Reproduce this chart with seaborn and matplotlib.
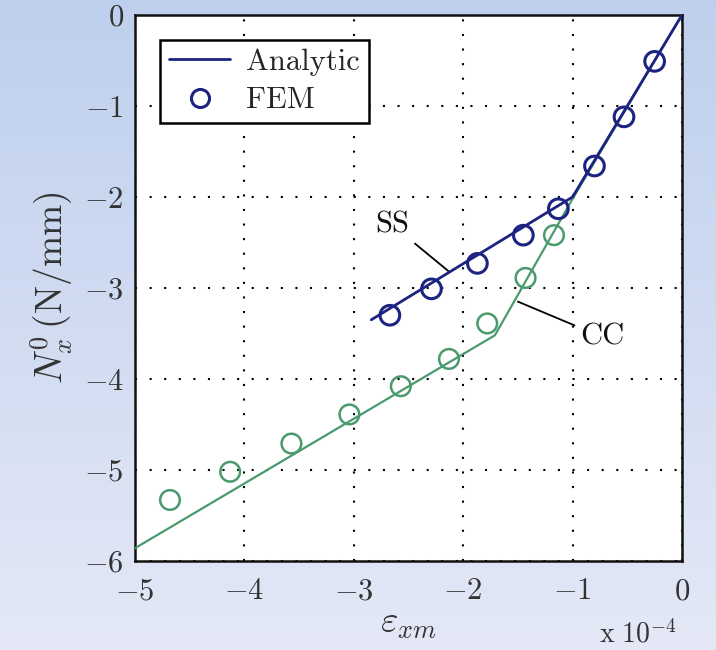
import numpy as np
import pandas as pd
import matplotlib
matplotlib.use("Agg")
import matplotlib.pyplot as plt
import seaborn as sns
from matplotlib.lines import Line2D

# ---- data (strain in units of 1e-4, N_x^0 in N/mm) ----
ss_line_x = [0.0, -1.0, -2.84]
ss_line_y = [0.0, -2.0, -3.35]
cc_line_x = [0.0, -1.0, -1.71, -5.0]
cc_line_y = [0.0, -2.02, -3.52, -5.86]

ss_fem_x = [-0.25, -0.53, -0.80, -1.13, -1.45, -1.87, -2.29, -2.67]
ss_fem_y = [-0.51, -1.12, -1.66, -2.13, -2.42, -2.73, -3.01, -3.30]
cc_fem_x = [-1.17, -1.43, -1.78, -2.13, -2.57, -3.04, -3.57, -4.13, -4.68]
cc_fem_y = [-2.42, -2.89, -3.39, -3.78, -4.08, -4.39, -4.71, -5.02, -5.33]

x_ticks = [-5, -4, -3, -2, -1, 0]
y_ticks = [-6, -5, -4, -3, -2, -1, 0]

navy = "#1c2380"
green = "#4a9a6e"

sns.set_style("white")
plt.rcParams["mathtext.fontset"] = "cm"
plt.rcParams["font.family"] = ["cmr10", "DejaVu Serif"]
plt.rcParams["axes.unicode_minus"] = False

fig = plt.figure(figsize=(7.16, 6.5), dpi=100)
# background gradient (slide background)
bg = fig.add_axes([0, 0, 1, 1], zorder=-10)
grad = np.linspace(0, 1, 256).reshape(-1, 1)
top = np.array([0.745, 0.815, 0.93])
bot = np.array([0.895, 0.91, 0.965])
img = top[None, None, :] * (1 - grad[:, :, None]) + bot[None, None, :] * grad[:, :, None]
bg.imshow(img, aspect="auto", extent=[0, 1, 0, 1])
bg.axis("off")

ax = fig.add_axes([0.1885, 0.137, 0.764, 0.840])
ax.set_facecolor("white")

cc_line = pd.DataFrame({"x": cc_line_x, "y": cc_line_y})
ss_line = pd.DataFrame({"x": ss_line_x, "y": ss_line_y})
sns.lineplot(data=cc_line, x="x", y="y", sort=False, color=green, lw=1.6, ax=ax, zorder=3)
sns.lineplot(data=ss_line, x="x", y="y", sort=False, color=navy, lw=2.0, ax=ax, zorder=4)

cc_fem = pd.DataFrame({"x": cc_fem_x, "y": cc_fem_y})
ss_fem = pd.DataFrame({"x": ss_fem_x, "y": ss_fem_y})
sns.scatterplot(data=cc_fem, x="x", y="y", marker="o", s=200, facecolors="none",
                edgecolors=green, linewidths=1.8, ax=ax, zorder=5)
sns.scatterplot(data=ss_fem, x="x", y="y", marker="o", s=200, facecolors="none",
                edgecolors=navy, linewidths=2.2, ax=ax, zorder=6)

ax.set_xlim(-5, 0)
ax.set_ylim(-6, 0)
ax.set_xticks(x_ticks)
ax.set_yticks(y_ticks)
ax.set_xticklabels([f"${v}$" for v in x_ticks], fontsize=22)
ax.set_yticklabels([f"${v}$" for v in y_ticks], fontsize=22)
ax.tick_params(direction="in", length=6, width=1.2, colors="#222222",
               top=False, right=False, labelcolor="#333333")
ax.tick_params(axis="x", pad=12)
ax.tick_params(axis="y", pad=8)
ax.grid(True, linestyle=(0, (1, 6)), color="black", lw=1.5)
for sp in ax.spines.values():
    sp.set_linewidth(1.8)
    sp.set_color("#111111")

ax.set_xlabel(r"$\varepsilon_{xm}$", fontsize=27, labelpad=2, color="#333333")
ax.set_ylabel(r"$N_x^{\mathit{0}}\,\mathrm{(N/mm)}$", fontsize=27, labelpad=6, color="#333333")
fig.text(0.836, 0.012, r"$\mathrm{x}\ 10^{-4}$", fontsize=20, color="#333333")

# annotations
ax.annotate("SS", xy=(-2.13, -2.82), xytext=(-2.49, -2.31), fontsize=22,
            ha="right", va="center", color="#111111",
            arrowprops=dict(arrowstyle="-", color="black", lw=1.3, shrinkA=2, shrinkB=0))
ax.annotate("CC", xy=(-1.50, -3.15), xytext=(-0.93, -3.54), fontsize=22,
            ha="left", va="center", color="#111111",
            arrowprops=dict(arrowstyle="-", color="black", lw=1.3, shrinkA=2, shrinkB=0))

handles = [Line2D([], [], color=navy, lw=2.0),
           Line2D([], [], color=navy, marker="o", ls="none", ms=13, mfc="none", mew=2.2)]
leg = ax.legend(handles, ["Analytic", "FEM"], loc="upper left", bbox_to_anchor=(0.046, 0.955),
                fontsize=22, frameon=True, fancybox=False, framealpha=1, edgecolor="black",
                handlelength=2.0, borderpad=0.3, labelspacing=0.35, handletextpad=0.5,
                borderaxespad=0.0)
leg.get_frame().set_linewidth(1.8)

fig.savefig("out.png", dpi=100)
